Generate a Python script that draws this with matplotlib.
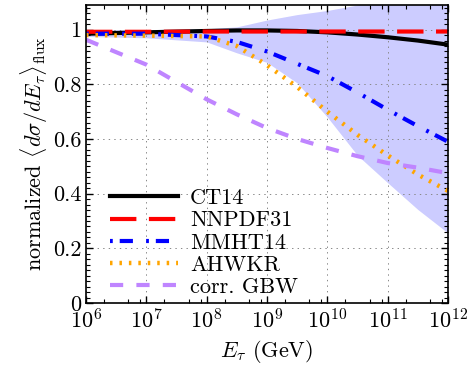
import matplotlib
matplotlib.use("Agg")
import matplotlib.pyplot as plt
import matplotlib.ticker as ticker
import numpy as np

plt.rcParams['font.family'] = 'serif'
plt.rcParams['font.serif'] = ['cmr10', 'DejaVu Serif']
plt.rcParams['mathtext.fontset'] = 'cm'
plt.rcParams['axes.formatter.use_mathtext'] = True
plt.rcParams['lines.scale_dashes'] = False

# energies (GeV), half-decade steps
energy = [1e6, 1e7, 1e8, 10**8.5, 1e9, 10**9.5, 1e10, 10**10.5, 1e11, 10**11.5, 1e12]

ct14 = [0.985, 0.99, 0.995, 0.997, 0.997, 0.995, 0.99, 0.982, 0.972, 0.96, 0.945]
nnpdf31 = [0.992, 0.992, 0.993, 0.993, 0.993, 0.993, 0.993, 0.993, 0.993, 0.993, 0.993]
mmht14 = [0.985, 0.985, 0.975, 0.955, 0.92, 0.875, 0.83, 0.77, 0.707, 0.647, 0.59]
ahwkr = [0.98, 0.978, 0.975, 0.94, 0.87, 0.79, 0.70, 0.615, 0.54, 0.47, 0.41]
gbw = [0.963, 0.872, 0.745, 0.69, 0.64, 0.60, 0.567, 0.537, 0.512, 0.495, 0.475]

band_low = [0.975, 0.97, 0.955, 0.915, 0.88, 0.805, 0.68, 0.54, 0.44, 0.342, 0.256]
band_high = [1.0, 1.0, 1.003, 1.01, 1.035, 1.055, 1.07, 1.09, 1.12, 1.15, 1.18]

fig = plt.figure(figsize=(4.71, 3.69), dpi=100)
ax = fig.add_axes([86/471, 1-303/369, 362/471, 298/369])

ax.fill_between(energy, band_low, band_high, color='blue', alpha=0.2, lw=0)
ax.plot(energy, ct14, color='black', lw=3, label='CT14')
ax.plot(energy, nnpdf31, color='red', lw=3, dashes=(19, 9), label='NNPDF31')
ax.plot(energy, mmht14, color='blue', lw=3, dashes=(2, 5, 9.5, 9.5), label='MMHT14')
ax.plot(energy, ahwkr, color='orange', lw=3.2, dashes=(1.8, 5), label='AHWKR')
ax.plot(energy, gbw, color='#bf85ff', lw=3, dashes=(9.5, 9.5), label='corr. GBW')

ax.set_xscale('log')
ax.set_xlim(1e6, 1e12)
ax.set_ylim(0, 1.09)
ax.xaxis.set_major_locator(ticker.LogLocator(base=10, numticks=20))
ax.xaxis.set_minor_locator(ticker.LogLocator(base=10, subs=(2, 5, 8), numticks=20))
ax.xaxis.set_minor_formatter(ticker.NullFormatter())
ax.yaxis.set_major_locator(ticker.MultipleLocator(0.2))
ax.yaxis.set_minor_locator(ticker.MultipleLocator(0.02))
ax.yaxis.set_major_formatter(ticker.FuncFormatter(lambda v, p: '%g' % round(v, 2)))

ax.tick_params(which='both', direction='in', top=True, right=True, labelsize=16)
ax.tick_params(which='major', length=5, width=1)
ax.tick_params(which='minor', length=3, width=0.8)
ax.grid(True, which='major', color='#888888', lw=0.7, dashes=(1, 3))
for s in ax.spines.values():
    s.set_linewidth(1.2)

ax.set_xlabel(r'$E_\tau$ (GeV)', fontsize=16, labelpad=4)
ax.set_ylabel(r'normalized $\langle d\sigma/dE_\tau\rangle_{\rm flux}$', fontsize=16, labelpad=2)

ax.legend(loc='lower left', bbox_to_anchor=(0.066, 0.02), frameon=False, fontsize=16,
          handlelength=3.06, handletextpad=0.54, labelspacing=0.12,
          borderpad=0, borderaxespad=0)

fig.savefig('out.png', dpi=100)
